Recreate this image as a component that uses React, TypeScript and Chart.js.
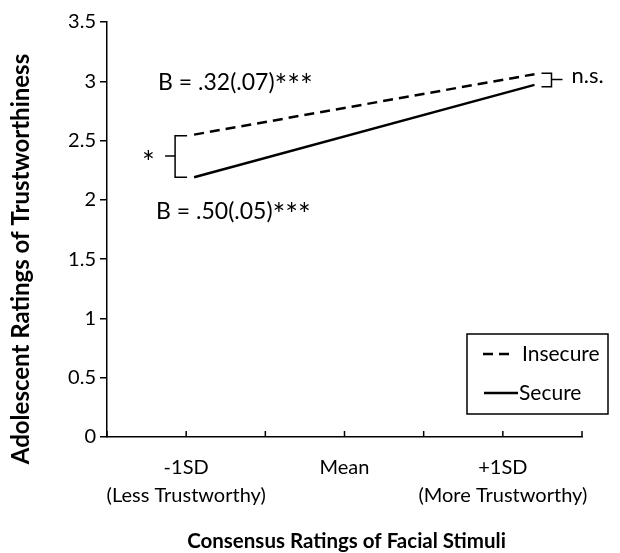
import React, { useEffect, useRef } from "react";
import { Chart, registerables } from "chart.js";

Chart.register(...registerables);

const xPositions = [1.1, 5.4];
const insecureValues = [2.55, 3.06];
const secureValues = [2.19, 2.97];
const xTickLabels: Record<number, string[]> = {
  1: ["-1SD", "(Less Trustworthy)"],
  3: ["Mean", ""],
  5: ["+1SD", "(More Trustworthy)"],
};
const seriesNames = ["Insecure", "Secure"];
const yTitle = "Adolescent Ratings of Trustworthiness";
const xTitle = "Consensus Ratings of Facial Stimuli";
const annInsecure = ["B = .32(.07)", "***"];
const annSecure = ["B = .50(.05)", "***"];

const FONT = "Lato, 'Open Sans', sans-serif";

const overlay = {
  id: "overlay",
  afterDraw(chart: any) {
    const ctx = chart.ctx;
    const xs = chart.scales.x;
    const ys = chart.scales.y;
    const ca = chart.chartArea;
    ctx.save();
    // x ticks pointing upward
    ctx.strokeStyle = "#000";
    ctx.lineWidth = 1.5;
    for (let v = 0; v <= 6; v++) {
      const px = xs.getPixelForValue(v);
      ctx.beginPath();
      ctx.moveTo(px, ca.bottom);
      ctx.lineTo(px, ca.bottom - 6);
      ctx.stroke();
    }
    // axis titles
    ctx.fillStyle = "#000";
    ctx.textAlign = "center";
    ctx.textBaseline = "middle";
    ctx.font = `bold 20.5px ${FONT}`;
    ctx.fillText(xTitle, (ca.left + ca.right) / 2 + 2, 541);
    ctx.save();
    ctx.translate(21, 259);
    ctx.rotate(-Math.PI / 2);
    ctx.font = `bold 24px ${FONT}`;
    ctx.fillText(yTitle, 0, 0);
    ctx.restore();

    // annotations
    const x0 = xs.getPixelForValue(xPositions[0]);
    const yIns0 = ys.getPixelForValue(insecureValues[0]);
    const ySec0 = ys.getPixelForValue(secureValues[0]);
    const x1 = xs.getPixelForValue(xPositions[1]);
    const yIns1 = ys.getPixelForValue(insecureValues[1]);
    const ySec1 = ys.getPixelForValue(secureValues[1]);

    ctx.textAlign = "left";
    const drawAnn = (parts: string[], x: number, y: number) => {
      ctx.font = `23px ${FONT}`;
      ctx.fillText(parts[0], x, y);
      const w = ctx.measureText(parts[0]).width;
      ctx.font = `30px ${FONT}`;
      ctx.fillText(parts[1], x + w, y + 4);
    };
    drawAnn(annInsecure, x0 - 36, yIns0 - 52);
    drawAnn(annSecure, x0 - 38, ySec0 + 34);

    ctx.lineWidth = 1.5;
    // left bracket
    const bx = x0 - 19;
    ctx.beginPath();
    ctx.moveTo(x0 - 7, yIns0 + 1);
    ctx.lineTo(bx, yIns0 + 1);
    ctx.lineTo(bx, ySec0);
    ctx.lineTo(x0 - 7, ySec0);
    ctx.stroke();
    const bm = (yIns0 + ySec0) / 2;
    ctx.beginPath();
    ctx.moveTo(bx - 10, bm);
    ctx.lineTo(bx, bm);
    ctx.stroke();
    ctx.font = `30px ${FONT}`;
    ctx.fillText("*", x0 - 52, bm + 7);

    // right bracket
    const rx = x1 + 17;
    ctx.beginPath();
    ctx.moveTo(x1 + 7, yIns1 - 1);
    ctx.lineTo(rx, yIns1 - 1);
    ctx.lineTo(rx, ySec1 + 2);
    ctx.lineTo(x1 + 7, ySec1 + 2);
    ctx.stroke();
    const rm = (yIns1 + ySec1) / 2;
    ctx.beginPath();
    ctx.moveTo(rx, rm);
    ctx.lineTo(rx + 11, rm);
    ctx.stroke();
    ctx.font = `22px ${FONT}`;
    ctx.fillText("n.s.", rx + 20, rm - 4);

    // legend
    const lx = 467, ly = 334, lw = 141, lh = 80;
    ctx.lineWidth = 1.5;
    ctx.strokeRect(lx, ly, lw, lh);
    ctx.lineWidth = 2.5;
    ctx.setLineDash([10, 6]);
    ctx.beginPath();
    ctx.moveTo(483, 354);
    ctx.lineTo(515, 354);
    ctx.stroke();
    ctx.setLineDash([]);
    ctx.beginPath();
    ctx.moveTo(484, 393);
    ctx.lineTo(518, 393);
    ctx.stroke();
    ctx.font = `21px ${FONT}`;
    ctx.fillText(seriesNames[0], 522, 354);
    ctx.fillText(seriesNames[1], 519, 393);
    ctx.restore();
  },
};

export default function App() {
  const ref = useRef<HTMLCanvasElement>(null);
  useEffect(() => {
    if (!ref.current) return;
    const chart = new Chart(ref.current, {
      type: "scatter",
      data: {
        datasets: [
          {
            label: seriesNames[0],
            data: xPositions.map((x, i) => ({ x, y: insecureValues[i] })),
            showLine: true,
            borderColor: "#000",
            borderWidth: 2.5,
            borderDash: [10, 6],
            pointRadius: 0,
          },
          {
            label: seriesNames[1],
            data: xPositions.map((x, i) => ({ x, y: secureValues[i] })),
            showLine: true,
            borderColor: "#000",
            borderWidth: 2.5,
            pointRadius: 0,
          },
        ],
      },
      plugins: [overlay],
      options: {
        animation: false,
        responsive: false,
        layout: { padding: { top: 22, right: 38, left: 0, bottom: 0 } },
        plugins: { legend: { display: false }, tooltip: { enabled: false } },
        scales: {
          x: {
            type: "linear",
            min: 0,
            max: 6,
            afterFit(scale: any) {
              scale.height = 116;
            },
            afterBuildTicks(scale: any) {
              scale.ticks = [1, 3, 5].map((v) => ({ value: v }));
            },
            grid: { display: false, drawTicks: false },
            border: { display: true, color: "#000", width: 1.5 },
            ticks: {
              color: "#000",
              font: { family: FONT, size: 20, lineHeight: 1.4 },
              padding: 17,
              maxRotation: 0,
              autoSkip: false,
              callback: (v: any) => xTickLabels[v] || "",
            },
          },
          y: {
            min: 0,
            max: 3.5,
            afterFit(scale: any) {
              scale.width = 107;
            },
            grid: {
              drawOnChartArea: false,
              drawTicks: true,
              tickLength: 7,
              color: "#000",
              lineWidth: 1.5,
            },
            border: { display: true, color: "#000", width: 1.5 },
            ticks: {
              stepSize: 0.5,
              color: "#000",
              padding: 4,
              font: { family: FONT, size: 20 },
              callback: (v: any) => String(v),
            },
          },
        },
      },
    });
    return () => chart.destroy();
  }, []);
  return (
    <div style={{ position: "fixed", left: 0, top: 0, width: 620, height: 553, background: "#fff" }}>
      <canvas ref={ref} width={620} height={553} style={{ width: 620, height: 553 }} />
    </div>
  );
}
